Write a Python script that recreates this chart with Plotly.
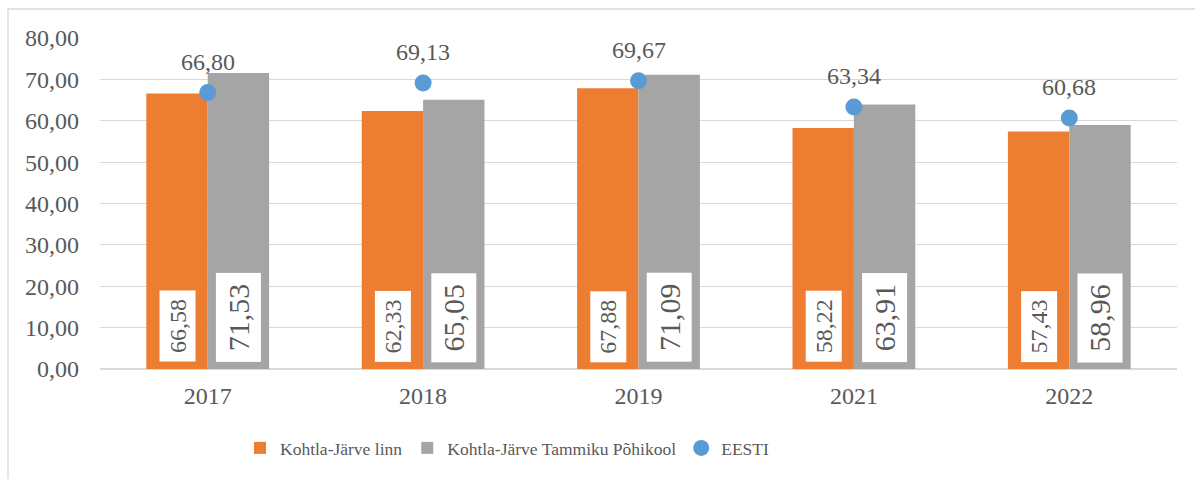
import plotly.graph_objects as go

years = ["2017", "2018", "2019", "2021", "2022"]
linn = [66.58, 62.33, 67.88, 58.22, 57.43]
kool = [71.53, 65.05, 71.09, 63.91, 58.96]
eesti = [66.80, 69.13, 69.67, 63.34, 60.68]

ORANGE = "#ED7D31"
GRAY = "#A5A5A5"
BLUE = "#5B9BD5"
TXT = "#595959"
FONT = "Liberation Serif, Times New Roman, serif"


def fmt(v):
    return f"{v:.2f}".replace(".", ",")


fig = go.Figure()
fig.add_trace(go.Bar(x=years, y=linn, name="Kohtla-Järve linn", marker_color=ORANGE,
                     marker_line_width=0))
fig.add_trace(go.Bar(x=years, y=kool, name="Kohtla-Järve Tammiku Põhikool", marker_color=GRAY,
                     marker_line_width=0))
fig.add_trace(go.Scatter(x=years, y=eesti, name="EESTI", mode="markers",
                         marker=dict(color=BLUE, size=17)))

L, R, T, B = 100, 18, 38, 110
W, H = 1195, 479
plot_w = W - L - R
cat_w = plot_w / len(years)
bargap = 0.43
half = cat_w * (1 - bargap) / 4

annotations = []
for i, yr in enumerate(years):
    # category axis: annotation x uses the category's serial index
    annotations.append(dict(x=i, y=0, xref="x", yref="y", text=fmt(linn[i]), showarrow=False,
                            textangle=-90, xanchor="center", yanchor="bottom", xshift=-half, yshift=7,
                            bgcolor="white", borderpad=1, borderwidth=0, width=69, height=34,
                            font=dict(family=FONT, size=24, color=TXT)))
    annotations.append(dict(x=i, y=0, xref="x", yref="y", text=fmt(kool[i]), showarrow=False,
                            textangle=-90, xanchor="center", yanchor="bottom", xshift=half, yshift=7,
                            bgcolor="white", borderpad=1, borderwidth=0, width=87, height=43,
                            font=dict(family=FONT, size=30, color=TXT)))
    annotations.append(dict(x=i, y=eesti[i], xref="x", yref="y", text=fmt(eesti[i]), showarrow=False,
                            xanchor="center", yanchor="middle", yshift=31,
                            font=dict(family=FONT, size=24, color=TXT)))

ph = H - T - B
fig.update_layout(
    width=W, height=H,
    margin=dict(l=L, r=R, t=T, b=B, pad=0),
    paper_bgcolor="white", plot_bgcolor="white",
    barmode="group", bargap=bargap, bargroupgap=0,
    separators=", ",
    font=dict(family=FONT, size=24, color=TXT),
    showlegend=True,
    legend=dict(orientation="h", x=0.13, xanchor="left", y=-(448 - 369) / ph, yanchor="middle",
                font=dict(family=FONT, size=17.5, color=TXT), itemwidth=30, tracegroupgap=0,
                traceorder="normal"),
    xaxis=dict(type="category", categoryorder="array", categoryarray=years,
               range=[-0.5, len(years) - 0.5], autorange=False,
               showgrid=False, showline=False, ticks="", ticklabelstandoff=10,
               tickfont=dict(family=FONT, size=24, color=TXT)),
    yaxis=dict(range=[0, 80], autorange=False, tickvals=[0, 10, 20, 30, 40, 50, 60, 70, 80],
               tickformat=".2f",
               showgrid=True, gridcolor="#D9D9D9", gridwidth=1.3, zeroline=True,
               zerolinecolor="#D9D9D9", zerolinewidth=1.5, showline=False, ticks="",
               ticklabelstandoff=20, tickfont=dict(family=FONT, size=24, color=TXT)),
    annotations=annotations,
    shapes=[dict(type="rect", xref="paper", yref="paper",
                 x0=(8 - L) / plot_w, x1=(W + 5 - L) / plot_w,
                 y0=-(H + 5 - T - ph) / ph, y1=1 + (T - 9) / ph,
                 line=dict(color="#D9D9D9", width=1.3), fillcolor="rgba(0,0,0,0)", layer="below")],
)

fig.write_html("out.html", config={"displayModeBar": False},
               post_script="document.body.style.margin='0';")
